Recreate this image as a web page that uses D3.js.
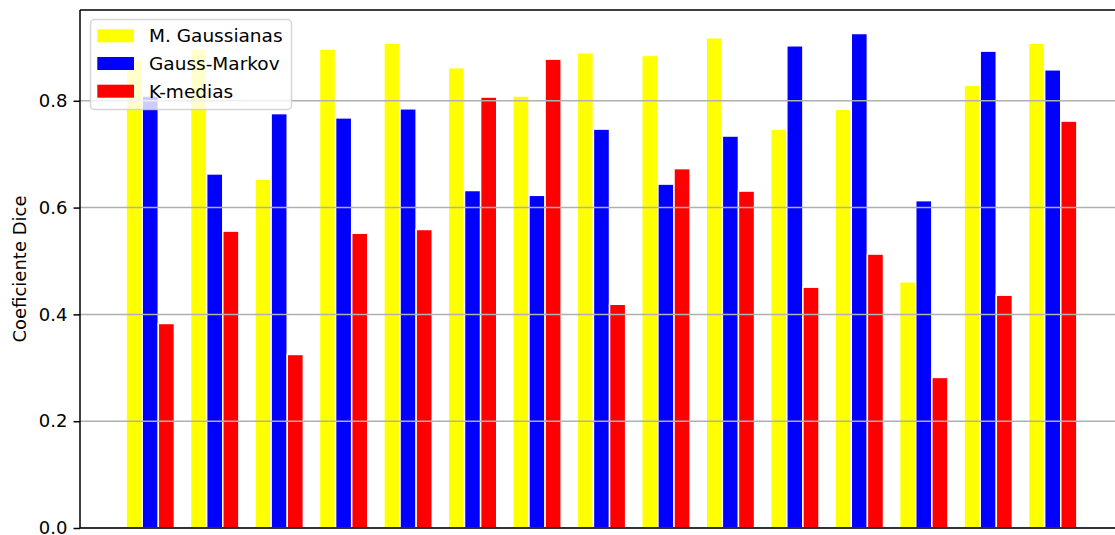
<!DOCTYPE html>
<html>
<head>
<meta charset="utf-8">
<script src="https://cdn.jsdelivr.net/npm/d3@7"></script>
<style>
  html, body { margin: 0; padding: 0; background: #ffffff; }
  svg { display: block; }
  text { font-family: "DejaVu Sans", sans-serif; fill: #000; }
</style>
</head>
<body>
<svg id="chart" width="1115" height="535"></svg>
<script>
// Dice coefficient per image for the three segmentation methods
const seriesNames = ["M. Gaussianas", "Gauss-Markov", "K-medias"];
const seriesColors = ["#ffff00", "#0000ff", "#ff0000"];

const gaussianas = [0.877, 0.897, 0.653, 0.897, 0.908, 0.862, 0.809, 0.890, 0.885, 0.918, 0.747, 0.784, 0.461, 0.829, 0.908];
const gaussMarkov = [0.809, 0.663, 0.776, 0.768, 0.785, 0.632, 0.623, 0.747, 0.644, 0.734, 0.903, 0.926, 0.613, 0.893, 0.858];
const kMedias = [0.383, 0.556, 0.325, 0.552, 0.559, 0.807, 0.878, 0.419, 0.673, 0.631, 0.451, 0.513, 0.282, 0.436, 0.762];

const yTicks = [0.0, 0.2, 0.4, 0.6, 0.8];
const yLabel = "Coeficiente Dice";

const series = [gaussianas, gaussMarkov, kMedias];
const groups = d3.range(gaussianas.length);

// Layout
const plotLeft = 80, plotTop = 10, plotBottom = 528;
const barWidth = 0.25;                 // in group units
const offsets = [-barWidth, 0, barWidth];

const svg = d3.select("#chart");

const x = d3.scaleLinear().domain([-1.09, 15.11]).range([plotLeft, plotLeft + 16.2 * 64.46]);
const y = d3.scaleLinear().domain([0, 0.97]).range([plotBottom, plotTop]);
const plotRight = x.range()[1];

// Bars
const barG = svg.append("g");
series.forEach((vals, si) => {
  barG.selectAll(null)
    .data(groups)
    .join("rect")
    .attr("x", i => x(i + offsets[si] - barWidth / 2))
    .attr("width", x(barWidth) - x(0))
    .attr("y", i => y(vals[i]))
    .attr("height", i => y(0) - y(vals[i]))
    .attr("fill", seriesColors[si])
    .attr("stroke", "#ffffff")
    .attr("stroke-width", 1.5);
});

// Horizontal grid
svg.append("g")
  .selectAll("line")
  .data(yTicks)
  .join("line")
  .attr("x1", plotLeft).attr("x2", plotRight)
  .attr("y1", d => y(d)).attr("y2", d => y(d))
  .attr("stroke", "#b0b0b0")
  .attr("stroke-width", 1.5);

// Y axis
const yAxis = d3.axisLeft(y)
  .tickValues(yTicks)
  .tickFormat(d3.format(".1f"))
  .tickSize(6.5)
  .tickSizeOuter(0)
  .tickPadding(6);
const yAxisG = svg.append("g")
  .attr("transform", `translate(${plotLeft},0)`)
  .call(yAxis);
yAxisG.select(".domain").remove();
yAxisG.selectAll(".tick line").attr("stroke", "#000").attr("stroke-width", 1.5);
yAxisG.selectAll(".tick text")
  .style("font-family", "'DejaVu Sans', sans-serif")
  .style("font-size", "18px")
  .attr("fill", "#000");

// Spines
const spines = svg.append("g").attr("stroke", "#000").attr("stroke-width", 1.5).attr("fill", "none");
spines.append("line").attr("x1", plotLeft).attr("x2", plotLeft).attr("y1", plotTop).attr("y2", plotBottom);
spines.append("line").attr("x1", plotLeft).attr("x2", plotRight).attr("y1", plotTop).attr("y2", plotTop);
spines.append("line").attr("x1", plotLeft).attr("x2", plotRight).attr("y1", plotBottom).attr("y2", plotBottom);
spines.append("line").attr("x1", plotRight).attr("x2", plotRight).attr("y1", plotTop).attr("y2", plotBottom);

// Y label
svg.append("text")
  .attr("transform", `translate(25.5,${(plotTop + plotBottom) / 2}) rotate(-90)`)
  .attr("text-anchor", "middle")
  .style("font-size", "18px")
  .text(yLabel);

// Legend
const legend = svg.append("g");
legend.append("rect")
  .attr("x", 90.5).attr("y", 19.5)
  .attr("width", 201).attr("height", 90)
  .attr("rx", 4)
  .attr("fill", "#ffffff").attr("fill-opacity", 0.8)
  .attr("stroke", "#cccccc").attr("stroke-opacity", 0.8).attr("stroke-width", 1.5);
const rowY = d3.scaleLinear().domain([0, 1]).range([35.8, 63.5]);
seriesNames.forEach((name, i) => {
  const cy = rowY(i);
  legend.append("rect")
    .attr("x", 97.3).attr("y", cy - 6.5)
    .attr("width", 36.7).attr("height", 13)
    .attr("fill", seriesColors[i]);
  legend.append("text")
    .attr("x", 149).attr("y", cy)
    .attr("dy", "0.35em")
    .style("font-size", "18.5px")
    .text(name);
});
</script>
</body>
</html>
